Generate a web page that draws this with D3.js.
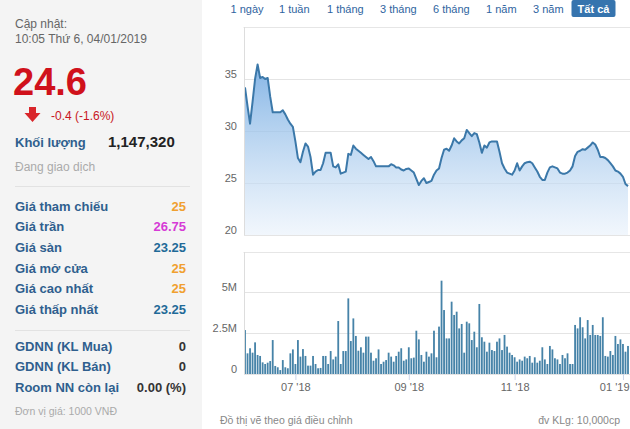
<!DOCTYPE html>
<html>
<head>
<meta charset="utf-8">
<script src="https://cdn.jsdelivr.net/npm/d3@7"></script>
<style>
  html, body { margin: 0; padding: 0; background: #fff; }
  svg { display: block; font-family: "Liberation Sans", Arial, sans-serif; }
</style>
</head>
<body>
<svg id="c" width="630" height="429"></svg>
<script>
// ---------- DATA ----------
const priceValues = [
  34.2,32.4,30.7,32.8,35.0,36.4,35.1,35.2,35.0,35.1,
  33.3,31.8,31.8,31.8,31.8,32.0,31.6,31.1,30.7,30.4,
  29.0,27.4,27.0,28.0,28.8,28.5,27.5,25.8,26.1,26.25,
  26.25,26.9,27.9,27.9,27.9,26.6,26.5,26.8,25.9,26.0,
  26.1,27.8,27.7,28.6,28.3,28.1,27.9,27.7,27.5,27.3,
  27.5,27.1,26.6,26.6,26.6,26.6,26.6,26.6,26.8,26.7,
  26.5,26.5,26.3,26.2,26.35,26.4,26.2,26.0,25.4,24.8,
  25.2,25.45,25.0,25.1,25.2,25.8,26.2,26.4,27.4,28.2,
  28.3,28.1,28.6,29.3,29.0,28.8,29.1,29.3,30.1,29.8,
  29.5,29.8,29.7,28.9,27.9,28.6,28.4,28.9,29.0,29.0,
  29.0,28.0,26.9,26.4,26.0,25.9,25.8,26.2,26.9,26.2,
  26.6,26.9,27.0,27.05,26.9,26.5,26.1,25.6,25.3,25.3,
  26.0,26.5,26.6,26.5,26.4,26.0,25.9,25.9,26.0,26.2,
  26.6,27.6,28.0,28.1,28.25,28.2,28.4,28.6,28.9,28.7,
  28.2,27.5,27.5,27.4,27.2,26.9,26.6,26.2,26.1,25.9,
  25.6,24.9,24.7
];
// volume, millions of shares
const volumeValues = [
  2.68,1.26,1.57,1.3,1.93,1.16,1.1,0.71,0.61,0.69,
  0.79,2.07,0.49,0.41,0.24,0.85,0.41,0.35,1.26,1.5,
  0.61,2.07,1.06,1.52,1.1,0.51,0.51,1.1,0.61,0.35,
  0.37,1.1,1.1,0.61,1.4,0.89,1.06,3.23,0.61,1.4,
  1.4,4.61,2.01,3.39,2.32,1.42,1.63,1.3,2.28,2.28,
  1.3,0.81,0.96,1.5,0.61,0.75,0.85,1.3,1.06,0.75,
  1.1,1.36,1.57,0.81,0.89,1.63,0.96,1.0,2.64,2.11,
  1.16,0.75,1.36,1.06,1.26,2.64,1.02,2.89,5.69,3.9,
  2.17,2.17,4.41,3.6,3.8,2.78,3.05,1.3,3.19,3.09,
  2.07,2.58,1.63,4.27,2.24,1.97,1.36,1.91,1.46,1.4,
  1.97,2.17,1.46,2.38,1.67,1.3,1.16,1.02,0.75,0.89,
  0.81,1.06,0.96,1.1,0.69,1.02,0.69,0.81,1.63,0.89,
  0.61,1.71,1.5,0.96,0.89,0.61,1.16,0.96,1.26,0.61,
  0.61,2.99,2.78,3.46,2.85,2.17,3.29,2.38,2.99,2.38,
  2.38,2.32,3.46,1.1,1.06,1.4,1.16,2.32,1.83,2.11,
  1.83,1.36,1.71
];
const xTickIndex = [20, 65, 107, 150];
const xTickLabels = ["07 '18", "09 '18", "11 '18", "01 '19"];
const priceTicks = [20, 25, 30, 35];
const volumeTicks = [0, 2.5, 5];
const rangeButtons = ["1 ngày", "1 tuần", "1 tháng", "3 tháng", "6 tháng", "1 năm", "3 năm", "Tất cả"];
const infoLabels = ["Giá tham chiếu", "Giá trần", "Giá sàn", "Giá mở cửa", "Giá cao nhất", "Giá thấp nhất"];
const infoValues = ["25", "26.75", "23.25", "25", "25", "23.25"];
const infoColors = ["#f0a030", "#d63bd6", "#1f6a98", "#f0a030", "#f0a030", "#1f6a98"];
const foreignLabels = ["GDNN (KL Mua)", "GDNN (KL Bán)", "Room NN còn lại"];
const foreignValues = ["0", "0", "0.00 (%)"];

// ---------- DRAW ----------
const svg = d3.select("#c");
const FONT = '"Liberation Sans", Arial, sans-serif';

// Left info panel
svg.append("rect").attr("x", 0).attr("y", 0).attr("width", 202).attr("height", 429).attr("fill", "#f4f4f4");
const lp = svg.append("g");
lp.append("text").attr("x", 15).attr("y", 28).attr("font-size", 12).attr("fill", "#666").text("Cập nhật:");
lp.append("text").attr("x", 15).attr("y", 42.5).attr("font-size", 12).attr("fill", "#666").text("10:05 Thứ 6, 04/01/2019");
lp.append("text").attr("x", 13).attr("y", 95).attr("font-size", 38).attr("font-weight", "bold").attr("fill", "#d0111b").text("24.6");
lp.append("path").attr("d", "M29,107 L36,107 L36,113 L40.5,113 L32.5,122 L24.5,113 L29,113 Z").attr("fill", "#d9262b");
lp.append("text").attr("x", 51).attr("y", 120).attr("font-size", 12).attr("fill", "#c8161e").text("-0.4 (-1.6%)");
lp.append("text").attr("x", 15).attr("y", 146.5).attr("font-size", 13).attr("font-weight", "bold").attr("fill", "#2f5f8e").text("Khối lượng");
lp.append("text").attr("x", 108).attr("y", 146.5).attr("font-size", 15).attr("font-weight", "bold").attr("fill", "#222").text("1,147,320");
lp.append("text").attr("x", 15).attr("y", 171).attr("font-size", 12).attr("fill", "#aaa").text("Đang giao dịch");
lp.append("line").attr("x1", 15).attr("x2", 190).attr("y1", 186.5).attr("y2", 186.5).attr("stroke", "#e2e2e2");

const rowY = d3.scaleLinear().domain([0, 5]).range([210.5, 314]);
infoLabels.forEach((lab, i) => {
  lp.append("text").attr("x", 15).attr("y", rowY(i)).attr("font-size", 13).attr("font-weight", "bold").attr("fill", "#2f5f8e").text(lab);
  lp.append("text").attr("x", 186).attr("y", rowY(i)).attr("text-anchor", "end").attr("font-size", 13).attr("font-weight", "bold").attr("fill", infoColors[i]).text(infoValues[i]);
});
lp.append("line").attr("x1", 15).attr("x2", 190).attr("y1", 330.5).attr("y2", 330.5).attr("stroke", "#e2e2e2");
const rowY2 = d3.scaleLinear().domain([0, 2]).range([350.5, 392]);
foreignLabels.forEach((lab, i) => {
  lp.append("text").attr("x", 15).attr("y", rowY2(i)).attr("font-size", 13).attr("font-weight", "bold").attr("fill", "#2f5f8e").text(lab);
  lp.append("text").attr("x", 186).attr("y", rowY2(i)).attr("text-anchor", "end").attr("font-size", 13).attr("font-weight", "bold").attr("fill", "#333").text(foreignValues[i]);
});
lp.append("text").attr("x", 15).attr("y", 415).attr("font-size", 10.5).attr("fill", "#aaa").text("Đơn vị giá: 1000 VNĐ");

// Range buttons
const btnX = [230.5, 279, 327, 380, 433, 486, 533, 576];
rangeButtons.forEach((b, i) => {
  if (i === rangeButtons.length - 1) {
    svg.append("rect").attr("x", 571.5).attr("y", 0).attr("width", 44).attr("height", 17).attr("rx", 2).attr("fill", "#3674ae");
    svg.append("text").attr("x", 593.5).attr("y", 12.5).attr("text-anchor", "middle").attr("font-size", 11).attr("font-weight", "bold").attr("fill", "#fff").text(b);
  } else {
    svg.append("text").attr("x", btnX[i]).attr("y", 12.5).attr("font-size", 11).attr("fill", "#2f64a0").text(b);
  }
});

// Scales
const n = priceValues.length;
const x = d3.scaleLinear().domain([0, n - 1]).range([245, 628]);
const yP = d3.scaleLinear().domain([20, 40]).range([235, 27]);
const yV = d3.scaleLinear().domain([0, 7.5]).range([374, 251]);

// price panel frame
svg.append("line").attr("x1", 243.5).attr("x2", 630).attr("y1", 27.5).attr("y2", 27.5).attr("stroke", "#e6e6e6");
svg.append("line").attr("x1", 243.5).attr("x2", 630).attr("y1", 252.5).attr("y2", 252.5).attr("stroke", "#e6e6e6");

// Gradient
const defs = svg.append("defs");
const grad = defs.append("linearGradient").attr("id", "ag").attr("gradientUnits", "userSpaceOnUse")
  .attr("x1", 0).attr("y1", 45).attr("x2", 0).attr("y2", 235);
grad.append("stop").attr("offset", 0).attr("stop-color", "#5d9ddd").attr("stop-opacity", 0.85);
grad.append("stop").attr("offset", 1).attr("stop-color", "#e8f1fb").attr("stop-opacity", 0.6);

// Price grid + axis
const pAxis = d3.axisLeft(yP).tickValues(priceTicks).tickSize(-(630 - 244)).tickFormat(d3.format("d"));
const pg = svg.append("g").attr("transform", "translate(244,0)").call(pAxis);
pg.select(".domain").remove();
pg.selectAll(".tick line").attr("stroke", "#e4e4e4").attr("shape-rendering", "crispEdges");
pg.selectAll(".tick text").attr("x", -7).attr("dy", "-0.15em").attr("fill", "#666").attr("font-size", 11).attr("font-family", FONT);

// Area + line
const area = d3.area().x((d, i) => x(i)).y0(yP(20)).y1(d => yP(d));
const line = d3.line().x((d, i) => x(i)).y(d => yP(d));
svg.append("path").datum(priceValues).attr("d", area).attr("fill", "url(#ag)");
// redraw the 25 gridline subtly over the area
svg.append("path").datum(priceValues).attr("d", line).attr("fill", "none").attr("stroke", "#3b78a9").attr("stroke-width", 2).attr("stroke-linejoin", "round");

// Volume grid + axis
const vAxis = d3.axisLeft(yV).tickValues(volumeTicks).tickSize(-(630 - 244)).tickFormat(d => d === 0 ? "0" : d + "M");
const vg = svg.append("g").attr("transform", "translate(244,0)").call(vAxis);
vg.select(".domain").remove();
vg.selectAll(".tick line").attr("stroke", "#e4e4e4").attr("shape-rendering", "crispEdges");
vg.selectAll(".tick text").attr("x", -7).attr("dy", "-0.15em").attr("fill", "#666").attr("font-size", 11).attr("font-family", FONT);

// Bars
const bw = (x(1) - x(0)) * 0.72;
svg.append("g").selectAll("rect").data(volumeValues).join("rect")
  .attr("x", (d, i) => x(i) - bw / 2)
  .attr("y", d => yV(d))
  .attr("width", bw)
  .attr("height", d => yV(0) - yV(d))
  .attr("fill", "#4683a8");

// Left axis lines
svg.append("line").attr("x1", 244.5).attr("x2", 244.5).attr("y1", 27).attr("y2", 235).attr("stroke", "#ddd");
svg.append("line").attr("x1", 244.5).attr("x2", 244.5).attr("y1", 252).attr("y2", 374).attr("stroke", "#ddd");

// X axis
const xAxis = d3.axisBottom(x).tickValues(xTickIndex).tickSize(6).tickFormat((d, i) => xTickLabels[i]);
const xg = svg.append("g").attr("transform", "translate(0,374)").call(xAxis);
xg.select(".domain").remove();
xg.selectAll(".tick line").attr("stroke", "#ccd6eb");
xg.selectAll(".tick text").attr("fill", "#666").attr("font-size", 11).attr("font-family", FONT).attr("y", 9);
xg.selectAll(".tick text").filter((d, i) => i === xTickIndex.length - 1).attr("text-anchor", "end").attr("x", 628 - x(xTickIndex[xTickIndex.length - 1]) + 1);

// Footer texts
svg.append("text").attr("x", 220).attr("y", 423.5).attr("font-size", 10.5).attr("fill", "#888").text("Đồ thị vẽ theo giá điều chỉnh");
svg.append("text").attr("x", 620).attr("y", 423.5).attr("text-anchor", "end").attr("font-size", 10.5).attr("fill", "#888").text("đv KLg: 10,000cp");
</script>
</body>
</html>
